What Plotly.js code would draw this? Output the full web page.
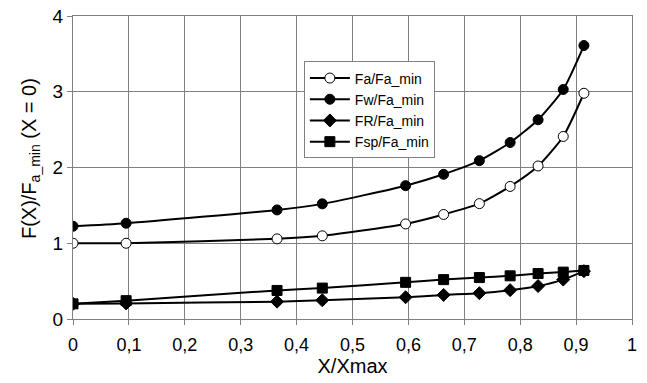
<!DOCTYPE html>
<html><head><meta charset="utf-8">
<script src="https://cdn.plot.ly/plotly-3.0.1.min.js"></script>
<style>html,body{margin:0;padding:0;background:#fff}</style>
</head><body>
<div id="chart" style="width:647px;height:383px"></div>
<script>
const xVals = [0, 0.095, 0.365, 0.446, 0.595, 0.663, 0.727, 0.782, 0.832, 0.877, 0.914];
const faVals = [1.0, 1.0, 1.058, 1.098, 1.255, 1.38, 1.523, 1.75, 2.02, 2.41, 2.98];
const fwVals = [1.224, 1.264, 1.44, 1.52, 1.76, 1.91, 2.09, 2.33, 2.63, 3.03, 3.61];
const frVals = [0.2, 0.206, 0.229, 0.247, 0.287, 0.318, 0.341, 0.381, 0.435, 0.52, 0.632];
const fspVals = [0.2, 0.242, 0.377, 0.408, 0.484, 0.52, 0.547, 0.57, 0.60, 0.619, 0.641];
const names = ['Fa/Fa_min', 'Fw/Fa_min', 'FR/Fa_min', 'Fsp/Fa_min'];
const xTitle = 'X/Xmax';
const yTitle = 'F(X)/F<sub>a_min</sub> (X = 0)';

const font = 'Liberation Sans, Arial, sans-serif';
function tr(y, name, symbol, size, fill) {
  return {
    x: xVals, y: y, name: name, type: 'scatter', mode: 'lines+markers',
    line: {color: '#000', width: 2, shape: 'spline', smoothing: 0.6},
    marker: {symbol: symbol, size: size, color: fill, line: {color: '#000', width: 1}}
  };
}
const data = [
  tr(faVals, names[0], 'circle', 10, '#fff'),
  tr(fwVals, names[1], 'circle', 10, '#000'),
  tr(frVals, names[2], 'diamond', 10, '#000'),
  tr(fspVals, names[3], 'square', 10, '#000')
];
const layout = {
  width: 647, height: 383,
  margin: {l: 73, r: 15, t: 16, b: 64},
  paper_bgcolor: '#fff', plot_bgcolor: '#fff',
  separators: ', ',
  font: {family: font, color: '#000'},
  showlegend: true,
  legend: {
    x: 0.413, y: 0.85, xanchor: 'left', yanchor: 'top',
    bgcolor: '#fff', bordercolor: '#808080', borderwidth: 1,
    font: {family: font, size: 14, color: '#000'},
    itemwidth: 40,
    tracegroupgap: 2
  },
  xaxis: {
    range: [0, 1], dtick: 0.1, tick0: 0, tickformat: '.1~f',
    showgrid: true, gridcolor: '#808080', gridwidth: 1,
    showline: true, linecolor: '#808080', linewidth: 1, mirror: true,
    ticks: 'outside', ticklen: 5, tickcolor: '#808080',
    ticklabelstandoff: 4,
    zeroline: false,
    tickfont: {family: font, size: 18, color: '#000'},
    title: {text: xTitle, font: {family: font, size: 20, color: '#000'}, standoff: 4}
  },
  yaxis: {
    range: [0, 4], dtick: 1,
    showgrid: true, gridcolor: '#808080', gridwidth: 1,
    showline: true, linecolor: '#808080', linewidth: 1, mirror: true,
    ticks: 'outside', ticklen: 5, tickcolor: '#808080',
    zeroline: false,
    tickfont: {family: font, size: 19, color: '#000'}
  },
  annotations: [{
    text: yTitle, textangle: -90, showarrow: false,
    xref: 'paper', yref: 'paper', x: -0.077, y: 0.531,
    xanchor: 'center', yanchor: 'middle',
    font: {family: font, size: 20, color: '#000'}
  }]
};
Plotly.newPlot('chart', data, layout, {displayModeBar: false, staticPlot: true});
</script>
</body></html>
